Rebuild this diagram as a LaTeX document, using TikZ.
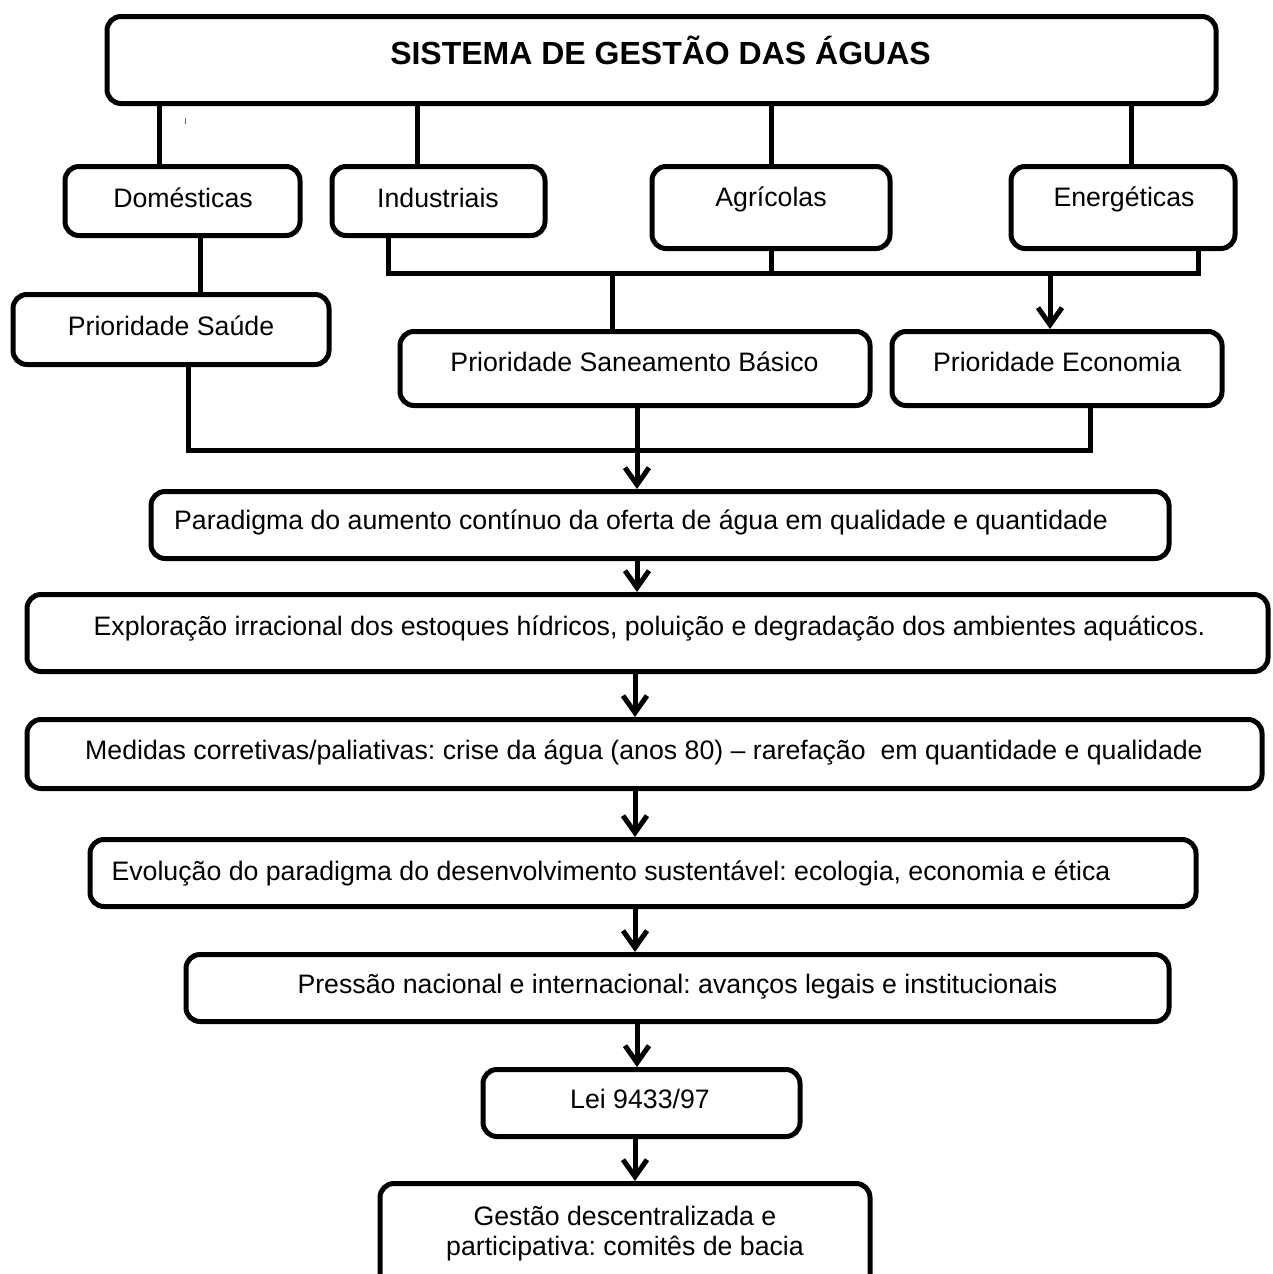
\documentclass[tikz,border=0pt]{standalone}
\usepackage{fontspec}
\setmainfont{Liberation Sans}
\usetikzlibrary{arrows.meta}
\frenchspacing
\begin{document}
\frenchspacing
\begin{tikzpicture}[x=1pt,y=-1pt,
  box/.style={draw, line width=5pt, rounded corners=14pt, inner sep=0pt},
  txt/.style={font=\fontsize{26.7}{30}\selectfont, anchor=base, inner sep=0pt},
  conn/.style={line width=5pt},
  arr/.style={line width=5pt, -{Straight Barb[length=17pt,width=24pt]}}]
\useasboundingbox (0,0) rectangle (1273,1274);
\fill[white] (0,0) rectangle (1273,1274);

% boxes
\node[box, minimum width=1109pt, minimum height=87pt] (title) at (661.5,60) {};
\node[box, minimum width=235pt, minimum height=69pt] (dom) at (182.5,201) {};
\node[box, minimum width=213pt, minimum height=69pt] (ind) at (438.5,201) {};
\node[box, minimum width=238pt, minimum height=82pt] (agr) at (771,207.5) {};
\node[box, minimum width=224pt, minimum height=82pt] (ene) at (1123,207.5) {};
\node[box, minimum width=316pt, minimum height=70pt] (sau) at (171,329.5) {};
\node[box, minimum width=470pt, minimum height=74pt] (san) at (635,368.5) {};
\node[box, minimum width=330pt, minimum height=74pt] (eco) at (1057,368.5) {};
\node[box, minimum width=1018pt, minimum height=67pt] (par) at (660,525) {};
\node[box, minimum width=1241pt, minimum height=77pt] (exp) at (647.5,633) {};
\node[box, minimum width=1235pt, minimum height=69pt] (med) at (644.5,754) {};
\node[box, minimum width=1106pt, minimum height=67pt] (evo) at (643,873) {};
\node[box, minimum width=983pt, minimum height=67pt] (pre) at (677.5,988) {};
\node[box, minimum width=317pt, minimum height=67pt] (lei) at (641.5,1103) {};
\node[box, minimum width=490pt, minimum height=105pt] (ges) at (625,1236) {};

% texts
\node[txt, font=\fontsize{32}{36}\selectfont\bfseries] (ttitle) at (660.5,64) {SISTEMA DE GESTÃO DAS ÁGUAS};
\node[txt] (tdom) at (183,207) {Domésticas};
\node[txt] (tind) at (438,207) {Industriais};
\node[txt] (tagr) at (771,206) {Agrícolas};
\node[txt] (tene) at (1124,206) {Energéticas};
\node[txt] (tsau) at (171,335) {Prioridade Saúde};
\node[txt] (tsan) at (634.5,371) {Prioridade Saneamento Básico};
\node[txt] (teco) at (1057,371) {Prioridade Economia};
\node[txt] (tpar) at (641,529) {Paradigma do aumento contínuo da oferta de água em qualidade e quantidade};
\node[txt] (texp) at (649.5,635) {Exploração irracional dos estoques hídricos, poluição e degradação dos ambientes aquáticos.};
\node[txt] (tmed) at (644,759) {Medidas corretivas/paliativas: crise da água (anos 80) – rarefação\ \ em quantidade e qualidade};
\node[txt] (tevo) at (611,880) {Evolução do paradigma do desenvolvimento sustentável: ecologia, economia e ética};
\node[txt] (tpre) at (677.5,993) {Pressão nacional e internacional: avanços legais e institucionais};
\node[txt] (tlei) at (640,1108) {Lei 9433/97};
\node[txt] (tges1) at (625,1225) {Gestão descentralizada e};
\node[txt] (tges2) at (625,1255) {participativa: comitês de bacia};

% small stray mark
\draw[line width=1pt, black!60] (185,118) -- (185,124);

% helper coordinates
\coordinate (xa) at (159,0);
\coordinate (xb) at (417,0);
\coordinate (xd) at (1131,0);
\coordinate (xe) at (388,0);
\coordinate (xf) at (1198,0);
\coordinate (xg) at (612,0);
\coordinate (xh) at (1050,0);
\coordinate (xi) at (200,0);
\coordinate (xj) at (188,0);
\coordinate (xk) at (1090,0);
\coordinate (xm) at (637,0);
\coordinate (xn) at (635,0);
\coordinate (bar) at (0,273);
\coordinate (bar2) at (0,450);

% connectors
\draw[conn] (title.south -| xa) -- (dom.north -| xa);
\draw[conn] (title.south -| xb) -- (ind.north -| xb);
\draw[conn] (title.south -| agr.north) -- (agr.north);
\draw[conn] (title.south -| xd) -- (ene.north -| xd);
\draw[conn] (ind.south -| xe) |- (bar -| xf) -- (ene.south -| xf);
\draw[conn] (agr.south) -- (agr.south |- bar);
\draw[conn] (bar -| xg) -- (san.north -| xg);
\draw[arr] (bar -| xh) -- (eco.north -| xh);
\draw[conn] (dom.south -| xi) -- (sau.north -| xi);
\draw[conn] (sau.south -| xj) |- (bar2 -| xk) -- (eco.south -| xk);
\draw[arr] (san.south -| xm) -- (par.north -| xm);
\draw[arr] (par.south -| xm) -- (exp.north -| xm);
\draw[arr] (exp.south -| xn) -- (med.north -| xn);
\draw[arr] (med.south -| xn) -- (evo.north -| xn);
\draw[arr] (evo.south -| xn) -- (pre.north -| xn);
\draw[arr] (pre.south -| xm) -- (lei.north -| xm);
\draw[arr] (lei.south -| xn) -- (ges.north -| xn);
\end{tikzpicture}
\end{document}
